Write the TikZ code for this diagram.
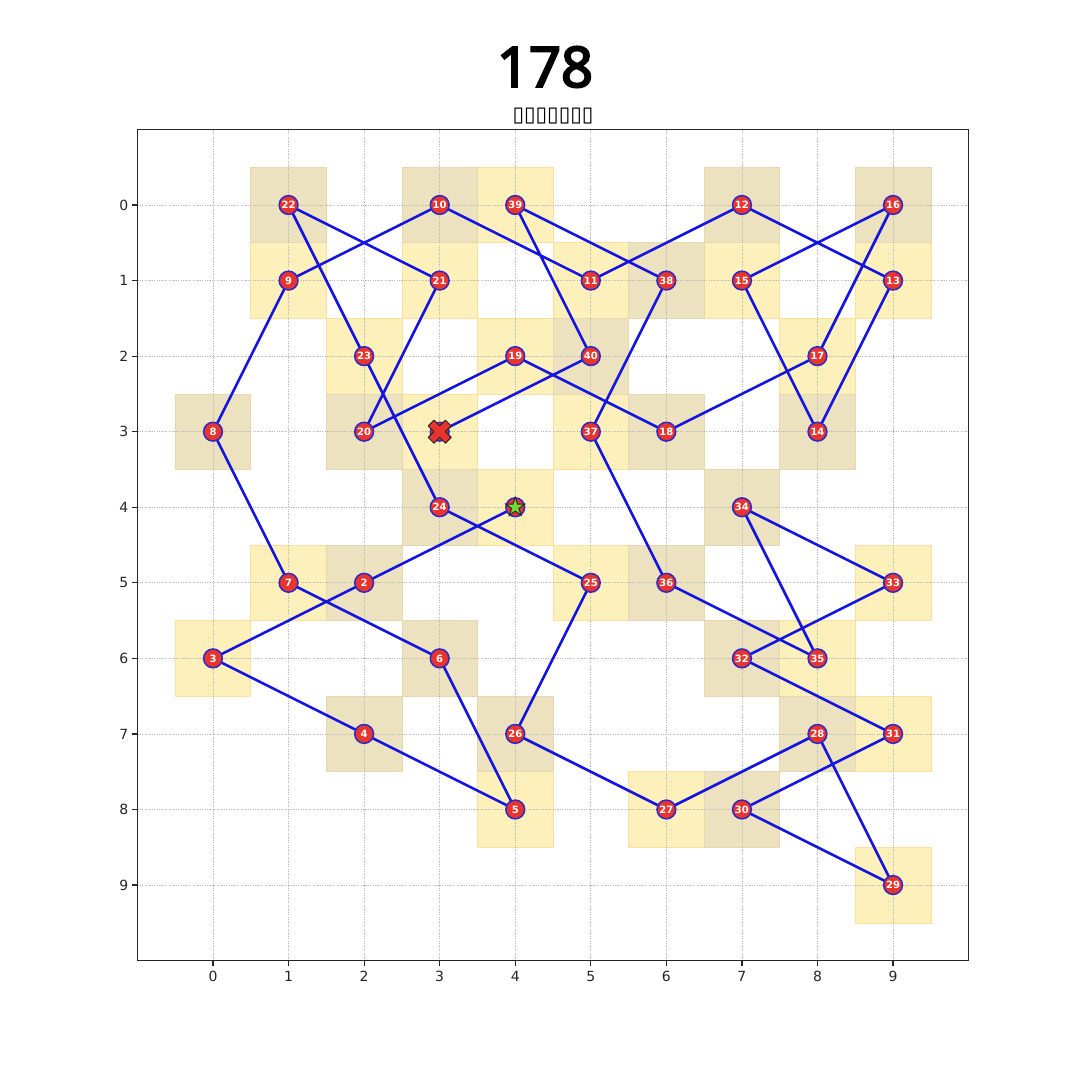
\documentclass[tikz,border=0pt]{standalone}
\usepackage{fontspec}
\setmainfont{DejaVu Sans}
\newfontfamily\titlefont{Noto Sans}[FakeBold=3.5]
\usetikzlibrary{shapes.geometric}
\definecolor{cellY}{RGB}{254,240,186}
\definecolor{cellT}{RGB}{237,226,192}
\definecolor{pathblue}{RGB}{20,20,225}
\definecolor{nodered}{RGB}{232,52,46}
\definecolor{nodeedge}{RGB}{45,40,200}
\definecolor{stargreen}{RGB}{110,222,50}
\tikzset{
  cellyellow/.style={fill=cellY, draw=cellY!85!orange, line width=0.3pt},
  celltan/.style={fill=cellT, draw=cellT!88!brown, line width=0.3pt},
  gridline/.style={gray!55, line width=0.35pt, dash pattern=on 0.6pt off 0.6pt},
  pathline/.style={pathblue, line width=1.3pt},
  dot/.style={circle, fill=nodered, draw=nodeedge, line width=0.75pt, minimum size=9.4pt, inner sep=0pt,
     text=white, font=\bfseries\fontsize{5}{5}\selectfont},
  ticklabel/.style={font=\fontsize{7}{8}\selectfont, inner sep=0pt, text=black!85},
}
\begin{document}
\begin{tikzpicture}[x=0.5pt,y=-0.5pt]
\useasboundingbox[fill=white] (0,0) rectangle (1080,1080);
\node[font=\titlefont\fontsize{28}{30}\selectfont, inner sep=0pt] (title) at (545,67) {178};
\node[font=\fontsize{10.5}{11}\selectfont, inner sep=0pt] (subtitle) at (553,116) {▯▯▯▯▯▯▯};
\begin{scope}[shift={(106.5pt,-102.5pt)}, x=37.78pt, y=-37.78pt]
  % cells
  \foreach \cx/\cy in {4/0,1/1,3/1,5/1,7/1,9/1,2/2,4/2,8/2,3/3,5/3,4/4,1/5,5/5,9/5,0/6,8/6,9/7,4/8,6/8,9/9}
    \path[cellyellow] (\cx-0.5,\cy-0.5) rectangle (\cx+0.5,\cy+0.5);
  \foreach \cx/\cy in {1/0,3/0,7/0,9/0,6/1,5/2,0/3,2/3,6/3,8/3,3/4,7/4,2/5,6/5,3/6,7/6,2/7,4/7,8/7,7/8}
    \path[celltan] (\cx-0.5,\cy-0.5) rectangle (\cx+0.5,\cy+0.5);
  % grid
  \foreach \i in {0,...,9} {
    \draw[gridline] (\i,-1) -- (\i,10);
    \draw[gridline] (-1,\i) -- (10,\i);
  }
  % frame and ticks
  \draw[black!85, line width=0.7pt] (-1,-1) rectangle (10,10);
  \foreach \i in {0,...,9} {
    \draw[black!85, line width=0.6pt] (\i,10) -- (\i,10.066);
    \draw[black!85, line width=0.6pt] (-1,\i) -- (-1.066,\i);
    \node[ticklabel] (xt\i) at (\i,10.205) {\i};
    \node[ticklabel, anchor=east] (yt\i) at (-1.115,\i) {\i};
  }
  % positions
  \coordinate (c1) at (4,4);  \coordinate (c2) at (2,5);  \coordinate (c3) at (0,6);
  \coordinate (c4) at (2,7);  \coordinate (c5) at (4,8);  \coordinate (c6) at (3,6);
  \coordinate (c7) at (1,5);  \coordinate (c8) at (0,3);  \coordinate (c9) at (1,1);
  \coordinate (c10) at (3,0); \coordinate (c11) at (5,1); \coordinate (c12) at (7,0);
  \coordinate (c13) at (9,1); \coordinate (c14) at (8,3); \coordinate (c15) at (7,1);
  \coordinate (c16) at (9,0); \coordinate (c17) at (8,2); \coordinate (c18) at (6,3);
  \coordinate (c19) at (4,2); \coordinate (c20) at (2,3); \coordinate (c21) at (3,1);
  \coordinate (c22) at (1,0); \coordinate (c23) at (2,2); \coordinate (c24) at (3,4);
  \coordinate (c25) at (5,5); \coordinate (c26) at (4,7); \coordinate (c27) at (6,8);
  \coordinate (c28) at (8,7); \coordinate (c29) at (9,9); \coordinate (c30) at (7,8);
  \coordinate (c31) at (9,7); \coordinate (c32) at (7,6); \coordinate (c33) at (9,5);
  \coordinate (c34) at (7,4); \coordinate (c35) at (8,6); \coordinate (c36) at (6,5);
  \coordinate (c37) at (5,3); \coordinate (c38) at (6,1); \coordinate (c39) at (4,0);
  \coordinate (c40) at (5,2); \coordinate (c41) at (3,3);
  % path
  \draw[pathline, line join=round] (c1)
    \foreach \k in {2,...,41} { -- (c\k) };
  % nodes
  \node[dot] (n1) at (c1) {};
  \foreach \k in {2,...,40}
    \node[dot] (n\k) at (c\k) {\k};
  \node[dot] (n41) at (c41) {};
  % start star
  \node[star, star points=5, star point ratio=2.6, fill=stargreen, draw=black!85, line width=0.5pt,
        minimum size=10pt, inner sep=0pt] (start) at (c1) {};
  % end X
  \begin{scope}[shift={(c41)}, rotate=45]
    \draw[fill=nodered, draw=black!85, line width=0.5pt, line join=round]
      (6.1pt,2.05pt) -- (2.05pt,2.05pt) -- (2.05pt,6.1pt) -- (-2.05pt,6.1pt) -- (-2.05pt,2.05pt)
      -- (-6.1pt,2.05pt) -- (-6.1pt,-2.05pt) -- (-2.05pt,-2.05pt) -- (-2.05pt,-6.1pt)
      -- (2.05pt,-6.1pt) -- (2.05pt,-2.05pt) -- (6.1pt,-2.05pt) -- cycle;
  \end{scope}
\end{scope}
\end{tikzpicture}
\end{document}
